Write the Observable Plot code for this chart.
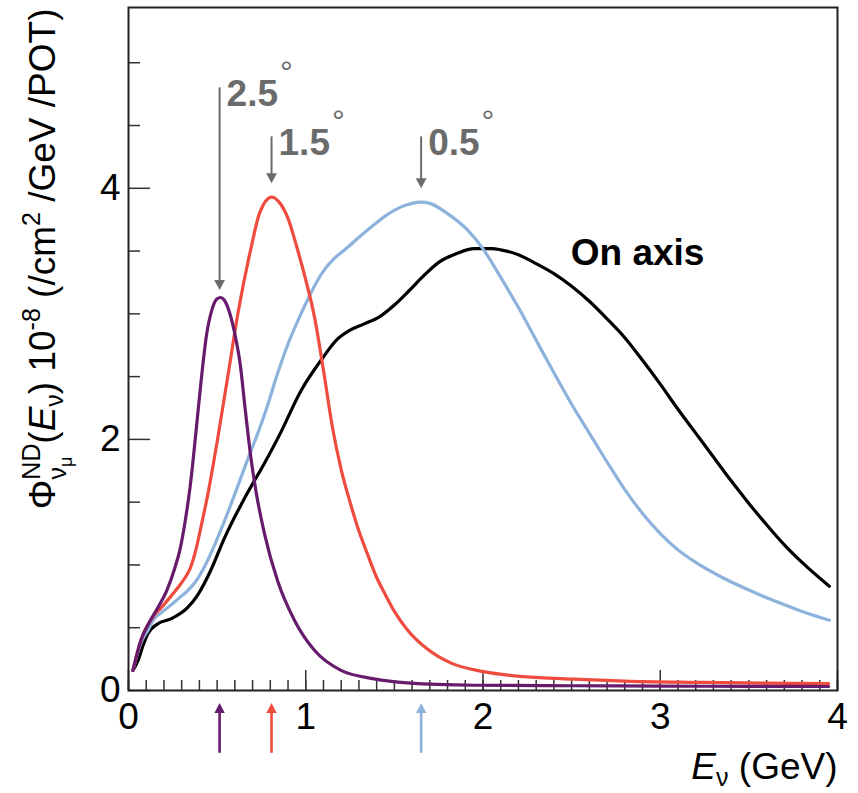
<!DOCTYPE html>
<html>
<head>
<meta charset="utf-8">
<script src="https://cdn.jsdelivr.net/npm/d3@7"></script>
<script src="https://cdn.jsdelivr.net/npm/@observablehq/plot@0.6"></script>
<style>
  html, body { margin: 0; padding: 0; background: #fff; }
  #chart svg { display: block; }
</style>
</head>
<body>
<div id="chart"></div>
<script>
// ---------------- data ----------------
const seriesNames  = ["On axis", "0.5°", "1.5°", "2.5°"];
const seriesColors = ["#000000", "#8db2dc", "#ef4b3f", "#661b6d"];

const onAxisE = [0.025,0.054,0.08,0.108,0.164,0.239,0.333,0.39,0.465,0.54,0.654,0.767,0.85,0.974,1.086,1.18,1.25,1.33,1.42,1.50,1.58,1.67,1.75,1.85,1.95,2.05,2.1,2.2,2.3,2.4,2.5,2.6,2.7,2.8,2.9,3.0,3.1,3.2,3.3,3.4,3.5,3.6,3.7,3.8,3.954];
const onAxisF = [0.16,0.24,0.35,0.45,0.53,0.57,0.66,0.76,0.96,1.21,1.53,1.81,2.03,2.39,2.63,2.80,2.87,2.92,2.98,3.07,3.18,3.31,3.41,3.48,3.52,3.52,3.51,3.47,3.40,3.32,3.22,3.10,2.96,2.81,2.63,2.44,2.24,2.05,1.86,1.67,1.49,1.32,1.16,1.02,0.83];

const off05E = [0.025,0.07,0.11,0.145,0.185,0.239,0.28,0.33,0.38,0.43,0.48,0.53,0.58,0.63,0.68,0.73,0.78,0.84,0.90,0.96,1.01,1.06,1.11,1.16,1.22,1.30,1.385,1.46,1.535,1.60,1.648,1.70,1.798,1.911,2.004,2.1,2.2,2.3,2.4,2.5,2.6,2.7,2.8,2.9,3.0,3.1,3.2,3.35,3.5,3.65,3.8,3.954];
const off05F = [0.16,0.38,0.48,0.57,0.62,0.68,0.73,0.79,0.87,0.99,1.14,1.31,1.49,1.68,1.87,2.05,2.25,2.52,2.76,2.96,3.11,3.25,3.36,3.44,3.51,3.61,3.71,3.79,3.85,3.88,3.89,3.88,3.80,3.67,3.51,3.29,3.05,2.79,2.53,2.28,2.05,1.82,1.60,1.41,1.25,1.12,1.02,0.90,0.80,0.71,0.63,0.56];

const off15E = [0.025,0.07,0.10,0.145,0.185,0.239,0.279,0.315,0.35,0.38,0.41,0.45,0.50,0.56,0.617,0.692,0.739,0.808,0.85,0.90,0.95,1.00,1.05,1.10,1.15,1.20,1.25,1.30,1.35,1.40,1.45,1.50,1.575,1.686,1.817,2.004,2.23,2.512,2.8,3.2,3.6,3.95];
const off15F = [0.16,0.40,0.50,0.60,0.66,0.75,0.82,0.89,0.98,1.12,1.31,1.58,1.98,2.50,3.00,3.53,3.80,3.93,3.89,3.76,3.53,3.27,2.97,2.55,2.10,1.76,1.50,1.27,1.08,0.90,0.76,0.63,0.48,0.33,0.22,0.15,0.11,0.09,0.075,0.065,0.058,0.055];

const off25E = [0.025,0.07,0.12,0.17,0.22,0.26,0.29,0.32,0.35,0.38,0.41,0.44,0.47,0.50,0.519,0.54,0.57,0.60,0.63,0.66,0.69,0.72,0.767,0.842,0.936,1.049,1.199,1.385,1.573,1.95,2.5,3.0,3.5,3.95];
const off25F = [0.16,0.40,0.55,0.67,0.81,0.97,1.12,1.35,1.65,2.05,2.47,2.83,3.03,3.12,3.13,3.11,3.01,2.84,2.60,2.22,1.86,1.58,1.25,0.87,0.56,0.32,0.16,0.093,0.061,0.042,0.038,0.035,0.033,0.032];

// peak-marker annotations (off-axis angles)
const angleLabels = ["2.5", "1.5", "0.5"];
const angleSeries = ["2.5°", "1.5°", "0.5°"];
const peakE       = [0.514, 0.807, 1.651];
const arrowTopF   = [4.80, 4.41, 4.41];
const arrowTipF   = [3.19, 4.04, 4.00];
const lowerArrowTipF  = [-0.10, -0.10, -0.10];
const lowerArrowTailF = [-0.50, -0.50, -0.50];

const onAxisLabel = ["On axis"];
const onAxisLabelE = [2.495];
const onAxisLabelF = [3.39];

const xMajor = [0, 1, 2, 3, 4];
const xMinor = d3.range(0, 41).map(i => i / 10);
const yMajor = [0, 2, 4];
const yMinor = [0.5, 1, 1.5, 2.5, 3, 3.5, 4.5, 5];

const xTitle = "Eν (GeV)";
const yTitle = "ΦNDνμ(Eν) 10-8 (/cm2 /GeV /POT)";

// ---------------- build ----------------
const curves = [
  [onAxisE, onAxisF], [off05E, off05F], [off15E, off15F], [off25E, off25F]
];
const rows = [];
curves.forEach(([E, F], i) => E.forEach((e, j) => rows.push({series: seriesNames[i], E: e, F: F[j]})));

const ann = angleLabels.map((t, i) => ({
  label: t + "°", series: angleSeries[i], E: peakE[i],
  top: arrowTopF[i], tip: arrowTipF[i],
  lowTip: lowerArrowTipF[i], lowTail: lowerArrowTailF[i]
}));

const headDown = { draw(ctx, size) { const r = Math.sqrt(size / Math.PI); const w = 1.35 * r, h = 2.5 * r;
  ctx.moveTo(0, 0); ctx.lineTo(-w, -h); ctx.lineTo(w, -h); ctx.closePath(); } };
const headUp = { draw(ctx, size) { const r = Math.sqrt(size / Math.PI); const w = 1.3 * r, h = 2.5 * r;
  ctx.moveTo(0, 0); ctx.lineTo(-w, h); ctx.lineTo(w, h); ctx.closePath(); } };

const gray = "#6b6b6b";
const tickColor = "#333";

const plot = Plot.plot({
  width: 858, height: 793,
  marginLeft: 128, marginRight: 21, marginTop: 7, marginBottom: 103,
  x: {domain: [0, 4]},
  y: {domain: [0, 5.44]},
  color: {domain: seriesNames, range: seriesColors},
  style: {fontFamily: "'Liberation Sans', Arial, Helvetica, sans-serif", fontSize: "37px", background: "#fff", color: "#000", overflow: "visible"},
  marks: [
    Plot.axisX({ticks: xMinor, tickSize: -10, fill: "none", stroke: tickColor, strokeWidth: 1.5, label: null}),
    Plot.axisX({ticks: xMajor, tickSize: -20, fill: "none", stroke: tickColor, strokeWidth: 1.5, label: null}),
    Plot.axisX({ticks: xMajor, tickSize: 0, tickPadding: 12, fontSize: 37, label: null, tickFormat: d => String(d)}),
    Plot.axisY({ticks: yMinor, tickSize: -12, fill: "none", stroke: tickColor, strokeWidth: 1.5, label: null}),
    Plot.axisY({ticks: yMajor, tickSize: -22, fill: "none", stroke: tickColor, strokeWidth: 1.5, label: null}),
    Plot.axisY({ticks: yMajor, tickSize: 0, tickPadding: 8, fontSize: 37, label: null, tickFormat: d => String(d)}),
    Plot.line(rows, {x: "E", y: "F", z: "series", stroke: "series", strokeWidth: 3.2, curve: "monotone-x"}),
    Plot.frame({stroke: "#222", strokeWidth: 2}),
    // upper grey arrows
    Plot.ruleX(ann, {x: "E", y1: "top", y2: "tip", stroke: gray, strokeWidth: 2, insetBottom: 6}),
    Plot.dot(ann, {x: "E", y: "tip", symbol: headDown, r: 4, fill: gray, stroke: "none"}),
    Plot.text(ann, {x: "E", y: "top", text: "label", dx: 7, dy: 18, textAnchor: "start", lineAnchor: "bottom",
      fontWeight: "bold", fontSize: 37, fill: gray}),
    // lower coloured arrows
    Plot.ruleX(ann, {x: "E", y1: "lowTip", y2: "lowTail", stroke: "series", strokeWidth: 2.6, insetTop: 6}),
    Plot.dot(ann, {x: "E", y: "lowTip", symbol: headUp, r: 4, fill: "series", stroke: "none"}),
    // labels
    Plot.text(onAxisLabel, {x: onAxisLabelE, y: onAxisLabelF, text: d => d, textAnchor: "start", lineAnchor: "bottom",
      fontWeight: "bold", fontSize: 37, fill: "#000"}),
    Plot.text([xTitle], {frameAnchor: "bottom-right", text: d => d, textAnchor: "end", lineAnchor: "bottom",
      dy: 88, fontSize: 37, fill: "#000"}),
    Plot.text([yTitle], {frameAnchor: "top-left", text: d => d, rotate: -90, textAnchor: "end", lineAnchor: "bottom",
      dx: -74, dy: 1, fontSize: 37, fill: "#000"})
  ]
});

document.getElementById("chart").appendChild(plot);

// ---------------- rich text (super/subscripts) ----------------
const NS = "http://www.w3.org/2000/svg";
const textGroups = plot.querySelectorAll('g[aria-label="text"]');
function rich(groupIndex, segsFor) {
  const g = textGroups[groupIndex];
  if (!g) return;
  g.querySelectorAll("text").forEach((t, i) => {
    const segs = segsFor(i);
    t.textContent = "";
    for (const s of segs) {
      const ts = document.createElementNS(NS, "tspan");
      ts.textContent = s.t;
      if (s.dx != null) ts.setAttribute("dx", s.dx);
      if (s.dy != null) ts.setAttribute("dy", s.dy);
      if (s.size != null) ts.setAttribute("font-size", s.size);
      if (s.italic) ts.setAttribute("font-style", "italic");
      if (s.weight) ts.setAttribute("font-weight", s.weight);
      t.appendChild(ts);
    }
  });
}
// group order: 0 angle labels, 1 "On axis", 2 x title, 3 y title
rich(0, i => [
  {t: angleLabels[i]},
  {t: "°", size: 32, weight: "normal", dx: 2, dy: -23}
]);
rich(2, () => [
  {t: "E", italic: true},
  {t: "ν", size: 25, dy: 7},
  {t: " (GeV)", dy: -7}
]);
rich(3, () => [
  {t: "Φ"},
  {t: "ND", size: 25, dy: -15},
  {t: "ν", size: 25, dx: -36, dy: 26},
  {t: "μ", size: 18, dy: 6},
  {t: "(", dx: 13, dy: -17},
  {t: "E", italic: true},
  {t: "ν", size: 25, dy: 8},
  {t: ") 10", dy: -8},
  {t: "-8", size: 25, dy: -15},
  {t: " (/cm", dy: 15},
  {t: "2", size: 25, dy: -15},
  {t: " /GeV /POT)", dy: 15}
]);
</script>
</body>
</html>
